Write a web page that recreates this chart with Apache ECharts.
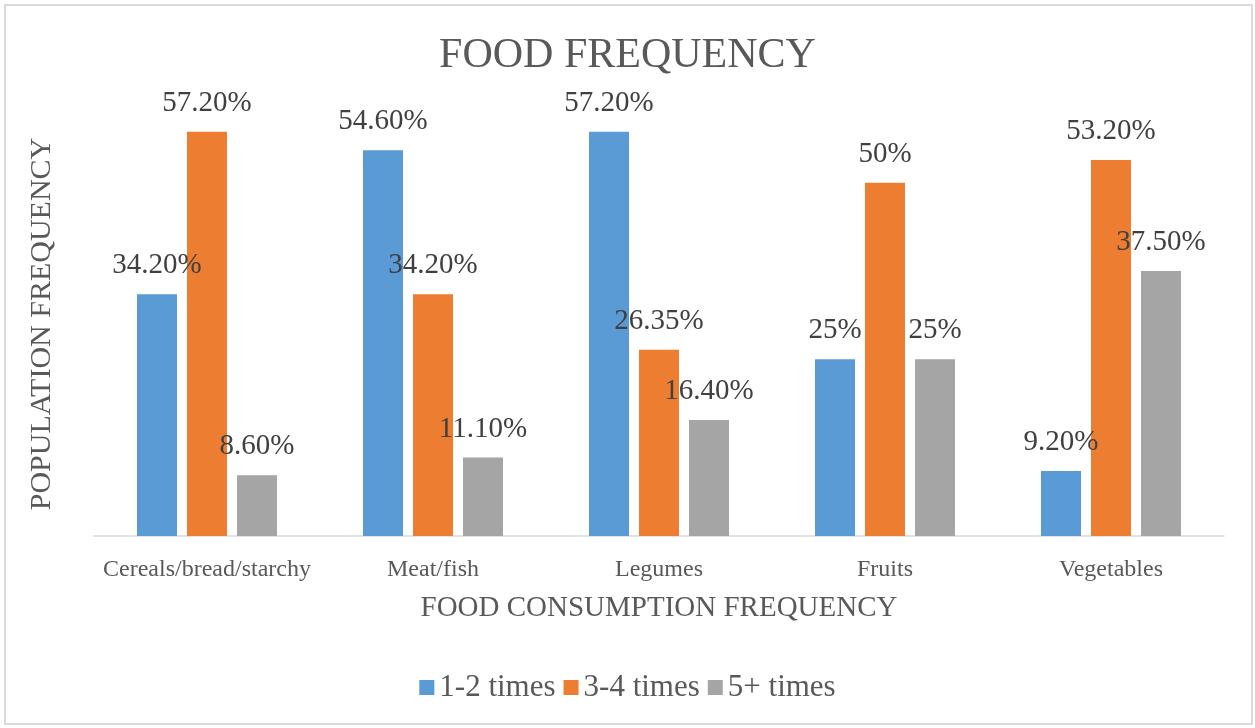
<!DOCTYPE html>
<html>
<head>
<meta charset="utf-8">
<script src="https://cdn.jsdelivr.net/npm/echarts@6/dist/echarts.min.js"></script>
<style>
  html, body { margin: 0; padding: 0; background: #fff; }
  #chart { width: 1255px; height: 728px; }
</style>
</head>
<body>
<div id="chart"></div>
<script>
// Food groups and the share of the population eating each at a given frequency (%)
const categories = ['Cereals/bread/starchy', 'Meat/fish', 'Legumes', 'Fruits', 'Vegetables'];
const seriesNames = ['1-2 times', '3-4 times', '5+ times'];
const times12 = [34.20, 54.60, 57.20, 25, 9.20];
const times34 = [57.20, 34.20, 26.35, 50, 53.20];
const times5plus = [8.60, 11.10, 16.40, 25, 37.50];
// Label text as printed on each bar
const labels12 = ['34.20%', '54.60%', '57.20%', '25%', '9.20%'];
const labels34 = ['57.20%', '34.20%', '26.35%', '50%', '53.20%'];
const labels5plus = ['8.60%', '11.10%', '16.40%', '25%', '37.50%'];

const colors = ['#5B9BD5', '#ED7D31', '#A5A5A5'];
const serif = '"Liberation Serif", "DejaVu Serif", serif';

function barSeries(name, values, texts, color) {
  return {
    name: name,
    type: 'bar',
    data: values,
    barWidth: 40,
    barGap: '25%',
    itemStyle: { color: color },
    label: {
      show: true,
      position: 'top',
      distance: 14,
      fontFamily: serif,
      fontSize: 29,
      color: '#404040',
      formatter: p => texts[p.dataIndex]
    }
  };
}

const chart = echarts.init(document.getElementById('chart'), null, { renderer: 'canvas' });
chart.setOption({
  animation: false,
  backgroundColor: '#ffffff',
  color: colors,
  title: {
    text: 'FOOD FREQUENCY',
    left: 'center',
    top: 30,
    textStyle: { fontFamily: serif, fontSize: 42, fontWeight: 'normal', color: '#595959' }
  },
  graphic: [{
    type: 'rect',
    shape: { x: 5, y: 5, width: 1247, height: 719 },
    style: { fill: 'none', stroke: '#d9d9d9', lineWidth: 2 },
    silent: true
  }],
  legend: {
    bottom: 20,
    left: 'center',
    itemWidth: 15,
    itemHeight: 15,
    itemGap: 8,
    icon: 'rect',
    textStyle: { fontFamily: serif, fontSize: 31, color: '#595959' },
    data: seriesNames
  },
  grid: { left: 94, right: 31, top: 112, bottom: 192 },
  xAxis: {
    type: 'category',
    data: categories,
    name: 'FOOD CONSUMPTION FREQUENCY',
    nameLocation: 'middle',
    nameGap: 58,
    nameTextStyle: { fontFamily: serif, fontSize: 29, color: '#595959' },
    axisLine: { lineStyle: { color: '#d9d9d9', width: 1.5 } },
    axisTick: { show: false },
    axisLabel: { interval: 0, fontFamily: serif, fontSize: 24, color: '#595959', margin: 22 }
  },
  yAxis: {
    type: 'value',
    min: 0,
    max: 60,
    name: 'POPULATION FREQUENCY',
    nameLocation: 'middle',
    nameGap: 37,
    nameTextStyle: { fontFamily: serif, fontSize: 30, color: '#595959' },
    axisLine: { show: false },
    axisTick: { show: false },
    axisLabel: { show: false },
    splitLine: { show: false }
  },
  series: [
    barSeries(seriesNames[0], times12, labels12, colors[0]),
    barSeries(seriesNames[1], times34, labels34, colors[1]),
    barSeries(seriesNames[2], times5plus, labels5plus, colors[2])
  ]
});
</script>
</body>
</html>
